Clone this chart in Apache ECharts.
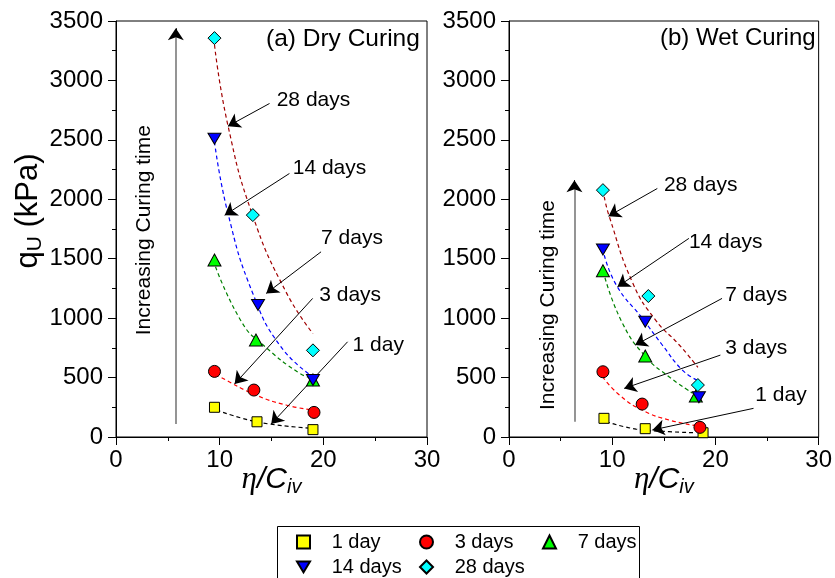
<!DOCTYPE html>
<html><head><meta charset="utf-8">
<script src="https://cdn.jsdelivr.net/npm/echarts@6/dist/echarts.min.js"></script>
<style>html,body{margin:0;padding:0;background:#fff}#c{width:835px;height:578px}</style>
</head><body><div id="c"></div>
<script>
// ---------- data ----------
const curingNames = ['1 day', '3 days', '7 days', '14 days', '28 days'];

// (a) Dry curing: [eta/Civ, qu (kPa)]
const dry1  = [[9.5, 250], [13.6, 128], [19.0, 62]];
const dry3  = [[9.5, 552], [13.3, 395], [19.1, 207]];
const dry7  = [[9.5, 1489], [13.5, 816], [19.0, 480]];
const dry14 = [[9.5, 2510], [13.7, 1110], [19.0, 479]];
const dry28 = [[9.5, 3356], [13.2, 1867], [19.0, 729]];

// (b) Wet curing
const wet1  = [[9.2, 157], [13.2, 70], [18.8, 36]];
const wet3  = [[9.1, 549], [12.9, 277], [18.5, 81]];
const wet7  = [[9.1, 1399], [13.2, 681], [18.1, 345]];
const wet14 = [[9.1, 1578], [13.2, 970], [18.4, 334]];
const wet28 = [[9.1, 2077], [13.5, 1186], [18.3, 437]];

// fitted trend curves
const dryFit1  = [[9.7, 227], [12.2, 157], [14.8, 109], [19.0, 73]];
const dryFit3  = [[9.6, 530], [10.0, 507], [13.5, 353], [16.4, 269], [19.0, 227]];
const dryFit7  = [[9.6, 1432], [12.2, 956], [14.2, 774], [17.7, 536], [19.0, 494]];
const dryFit14 = [[9.5, 2484], [10.8, 1881], [13.2, 1208], [15.9, 760], [19.0, 507]];
const dryFit28 = [[9.5, 3300], [10.8, 2620], [13.2, 1860], [16.4, 1220], [19.0, 870]];

const wetFit1  = [[9.4, 129], [12.3, 67], [15.5, 45], [18.1, 36]];
const wetFit3  = [[9.06, 507], [10.7, 353], [12.9, 227], [15.5, 143], [18.4, 92]];
const wetFit7  = [[9.3, 1340], [11.0, 956], [13.25, 675], [15.5, 507], [17.8, 368]];
const wetFit14 = [[9.23, 1531], [10.45, 1270], [12.9, 1000], [14.85, 774], [16.8, 563], [18.2, 479]];
const wetFit28 = [[9.23, 2021], [9.7, 1859], [12.0, 1293], [14.2, 984], [16.5, 774], [18.3, 586]];

// annotation arrows [from, to] and labels [x, y, text]
const dryArrows = [
  [[14.81, 2806], [10.8, 2615]],
  [[16.73, 2217], [10.48, 1866]],
  [[19.78, 1558], [14.49, 1208]],
  [[18.97, 1166], [11.44, 446]],
  [[22.34, 801], [14.97, 109]]
];
const dryLabels = [[15.5, 2833, '28 days'], [17.05, 2259, '14 days'], [19.78, 1670, '7 days'], [19.6, 1194, '3 days'], [22.82, 773, '1 day']];
const wetArrows = [
  [[14.37, 2091], [9.64, 1858]],
  [[17.43, 1671], [10.51, 1264]],
  [[20.64, 1166], [12.22, 773]],
  [[20.48, 689], [11.16, 409]],
  [[23.69, 241], [13.89, 59]]
];
const wetLabels = [[15.01, 2119, '28 days'], [17.43, 1642, '14 days'], [20.96, 1194, '7 days'], [20.96, 746, '3 days'], [23.86, 353, '1 day']];
const dryTimeLine = [[5.77, 109], [5.77, 3400]];
const dryTimeHead = [[5.77, 3380], [5.77, 3439]];
const wetTimeLine = [[6.34, 129], [6.34, 2120]];
const wetTimeHead = [[6.34, 2100], [6.34, 2161]];
const dryTimeText = [2.74, 1740];
const wetTimeText = [3.83, 1110];
const panelTitles = ['(a) Dry Curing', '(b) Wet Curing'];
const legendColumns = [['1 day', '14 days'], ['3 days', '28 days'], ['7 days']];

// ---------- styles ----------
const FONT = 'Liberation Sans, Arial, sans-serif';
const markerSymbols = ['rect', 'circle', 'triangle', 'path://M0,0L12,0L6,10Z', 'diamond'];
const markerColors = ['#ffff00', '#ff0000', '#00ff00', '#0000ff', '#00ffff'];
const markerSizes = [10, 12, [13, 12], [13, 11], 13];
const fitColors = ['#000000', '#ff0000', '#008000', '#0000ff', '#a00000'];

const dryData = [dry1, dry3, dry7, dry14, dry28];
const wetData = [wet1, wet3, wet7, wet14, wet28];
const dryFits = [dryFit1, dryFit3, dryFit7, dryFit14, dryFit28];
const wetFits = [wetFit1, wetFit3, wetFit7, wetFit14, wetFit28];

function axisCommonX(idx) {
  return {
    type: 'value', gridIndex: idx, min: 0, max: 30, interval: 10,
    axisLine: { lineStyle: { color: '#000', width: 1 } },
    axisTick: { inside: false, length: 8, lineStyle: { color: '#000' } },
    minorTick: { show: true, splitNumber: 2, length: 4, lineStyle: { color: '#000' } },
    splitLine: { show: false },
    axisLabel: { fontSize: 24, color: '#000', fontFamily: FONT, margin: 11, formatter: v => String(v) },
    name: '{e|η}{a|/C}{b|iv}', nameLocation: 'middle', nameGap: 26, nameMoveOverlap: false,
    nameTextStyle: {
      rich: {
        e: { fontSize: 31, fontStyle: 'italic', fontFamily: 'Liberation Serif, serif', color: '#000' },
        a: { fontSize: 30, fontStyle: 'italic', fontFamily: FONT, color: '#000' },
        b: { fontSize: 20, fontStyle: 'italic', fontFamily: FONT, color: '#000', padding: [14, 0, 0, 0] }
      }
    }
  };
}
function axisCommonY(idx, withName) {
  const ax = {
    type: 'value', gridIndex: idx, min: 0, max: 3500, interval: 500,
    axisLine: { show: true, lineStyle: { color: '#000', width: 1 } },
    axisTick: { show: true, inside: false, length: 8, lineStyle: { color: '#000' } },
    minorTick: { show: true, splitNumber: 2, length: 4, lineStyle: { color: '#000' } },
    splitLine: { show: false },
    axisLabel: { fontSize: 24, color: '#000', fontFamily: FONT, margin: 13, formatter: v => String(v) }
  };
  if (withName) {
    ax.name = '{s|q}{b|U}{a| (kPa)}';
    ax.nameLocation = 'middle';
    ax.nameGap = 68;
    ax.nameTextStyle = {
      rich: {
        s: { fontSize: 31, fontFamily: FONT, color: '#000', padding: [0, 0, 0, 36] },
        a: { fontSize: 31, fontFamily: FONT, color: '#000' },
        b: { fontSize: 21, fontFamily: FONT, color: '#000', padding: [14, 0, 0, 0] }
      }
    };
  }
  return ax;
}

const textLabel = { show: true, color: '#000', opacity: 1, fontFamily: FONT, fontSize: 21, textBorderWidth: 0, formatter: '{b}' };

const series = [];
function addPanel(idx, data, fits, arrows, labels, timeLine, timeHead, timeText) {
  fits.forEach((f, i) => {
    series.push({
      type: 'line', name: 'fit' + idx + '_' + i, xAxisIndex: idx, yAxisIndex: idx,
      data: f, smooth: true, showSymbol: false, symbol: 'none', z: 2,
      lineStyle: { color: fitColors[i], width: 1.2, type: [4, 3] }
    });
  });
  series.push({
    type: 'lines', coordinateSystem: 'cartesian2d', xAxisIndex: idx, yAxisIndex: idx,
    data: arrows.map(a => ({ coords: a })), symbol: ['none', 'arrow'], symbolSize: [7, 12], z: 3,
    lineStyle: { color: '#000', width: 1, opacity: 1 }
  });
  series.push({
    type: 'lines', coordinateSystem: 'cartesian2d', xAxisIndex: idx, yAxisIndex: idx,
    data: [{ coords: timeLine }], symbol: 'none', z: 3,
    lineStyle: { color: '#7a7a7a', width: 1.6, opacity: 1 }
  });
  series.push({
    type: 'lines', coordinateSystem: 'cartesian2d', xAxisIndex: idx, yAxisIndex: idx,
    data: [{ coords: timeHead }], symbol: ['none', 'arrow'], symbolSize: [6, 12], z: 3,
    lineStyle: { color: '#000', width: 1, opacity: 1 }
  });
  series.push({
    type: 'scatter', xAxisIndex: idx, yAxisIndex: idx, symbolSize: 0, z: 4,
    itemStyle: { color: '#000' },
    data: labels.map(l => ({ value: [l[0], l[1]], name: l[2] })),
    label: Object.assign({}, textLabel, { position: 'right', distance: 0 })
  });
  series.push({
    type: 'scatter', xAxisIndex: idx, yAxisIndex: idx, symbolSize: 0, z: 4,
    itemStyle: { color: '#000' },
    data: [{ value: timeText, name: 'Increasing Curing time' }],
    label: Object.assign({}, textLabel, { position: 'inside', rotate: 90, align: 'center', verticalAlign: 'middle' })
  });
  data.forEach((d, i) => {
    series.push({
      type: 'scatter', name: curingNames[i], xAxisIndex: idx, yAxisIndex: idx, z: 5,
      data: d, symbol: markerSymbols[i], symbolSize: markerSizes[i],
      itemStyle: { color: markerColors[i], borderColor: '#000', borderWidth: 1, opacity: 1 }
    });
  });
}
addPanel(0, dryData, dryFits, dryArrows, dryLabels, dryTimeLine, dryTimeHead, dryTimeText);
addPanel(1, wetData, wetFits, wetArrows, wetLabels, wetTimeLine, wetTimeHead, wetTimeText);

const legendLefts = [296, 419, 542];
const legends = legendColumns.map((col, i) => ({
  left: legendLefts[i], top: 532, orient: 'vertical', padding: 0,
  itemGap: 5, itemWidth: 13, itemHeight: 13, selectedMode: false,
  data: col,
  formatter: n => '   ' + n,
  textStyle: { fontSize: 20, color: '#000', fontFamily: FONT }
}));

const option = {
  animation: false,
  backgroundColor: '#fff',
  textStyle: { fontFamily: FONT },
  title: [
    { text: panelTitles[0], left: 261, top: 22, padding: 5, textStyle: { fontSize: 24.5, fontWeight: 'normal', color: '#000', fontFamily: FONT } },
    { text: panelTitles[1], left: 655, top: 21, padding: 5, textStyle: { fontSize: 24, fontWeight: 'normal', color: '#000', fontFamily: FONT } }
  ],
  graphic: [{
    type: 'rect', left: 277, top: 526, silent: true,
    shape: { width: 362, height: 70 },
    style: { fill: '#fff', stroke: '#000', lineWidth: 1 }, z: -1
  }],
  grid: [
    { left: 116, top: 21, width: 311, height: 416, show: true, borderColor: '#000', borderWidth: 1, backgroundColor: 'transparent' },
    { left: 509, top: 21, width: 311, height: 416, show: true, borderColor: '#000', borderWidth: 1, backgroundColor: 'transparent' }
  ],
  xAxis: [axisCommonX(0), axisCommonX(1)],
  yAxis: [axisCommonY(0, true), axisCommonY(1, false)],
  legend: legends,
  series: series
};
const chart = echarts.init(document.getElementById('c'), null, { renderer: 'canvas' });
chart.setOption(option);
</script>
</body></html>
